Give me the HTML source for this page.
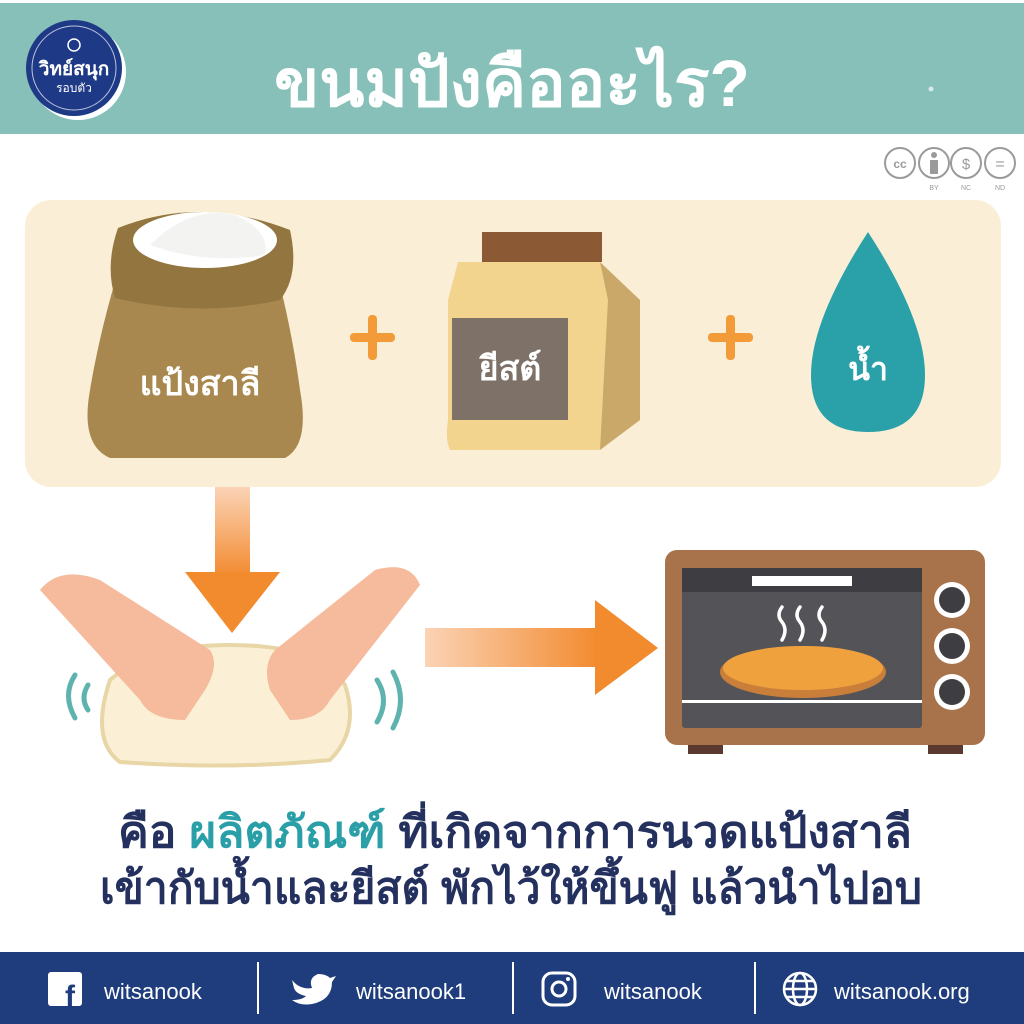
<!DOCTYPE html>
<html><head><meta charset="utf-8"><style>
html,body{margin:0;padding:0;width:1024px;height:1024px;overflow:hidden;background:#fff}
svg{display:block}
text{font-family:"Liberation Sans","Noto Sans CJK SC",sans-serif}
</style></head><body>
<svg width="1024" height="1024" viewBox="0 0 1024 1024" xmlns="http://www.w3.org/2000/svg">
<defs>
<linearGradient id="gd" x1="0" y1="0" x2="0" y2="1"><stop offset="0" stop-color="#FBD3B6"/><stop offset="1" stop-color="#F28A2E"/></linearGradient>
<linearGradient id="gr" x1="0" y1="0" x2="1" y2="0"><stop offset="0" stop-color="#FBD3B6"/><stop offset="1" stop-color="#F28A2E"/></linearGradient>
</defs>
<rect x="0" y="0" width="1024" height="134" fill="#86C0B9"/>
<rect x="0" y="0" width="1024" height="3" fill="#fff"/>
<circle cx="78" cy="72" r="48" fill="#fff"/>
<circle cx="74" cy="68" r="48" fill="#1E3A87"/>
<circle cx="74" cy="68" r="42" fill="none" stroke="#fff" stroke-width="1" opacity="0.7"/>
<text x="74" y="75" font-size="19" font-weight="bold" fill="#fff" text-anchor="middle">วิทย์สนุก</text>
<text x="74" y="92" font-size="12" fill="#fff" text-anchor="middle">รอบตัว</text>
<circle cx="74" cy="45" r="6" fill="none" stroke="#fff" stroke-width="1.5"/>
<text x="512" y="106" font-size="66" font-weight="bold" fill="#fff" text-anchor="middle">ขนมปังคืออะไร?</text>
<circle cx="931" cy="89" r="2.5" fill="#d8eae7"/>
<g fill="none" stroke="#9a9a9a" stroke-width="2">
<circle cx="900" cy="163" r="15"/><circle cx="934" cy="163" r="15"/><circle cx="966" cy="163" r="15"/><circle cx="1000" cy="163" r="15"/>
</g>
<text x="900" y="168" font-size="12" font-weight="bold" fill="#9a9a9a" text-anchor="middle">cc</text>
<circle cx="934" cy="155" r="3" fill="#9a9a9a"/><rect x="930" y="160" width="8" height="14" fill="#9a9a9a"/>
<text x="934" y="190" font-size="7" fill="#9a9a9a" text-anchor="middle">BY</text>
<text x="966" y="190" font-size="7" fill="#9a9a9a" text-anchor="middle">NC</text>
<text x="1000" y="190" font-size="7" fill="#9a9a9a" text-anchor="middle">ND</text>
<text x="966" y="169" font-size="15" fill="#9a9a9a" text-anchor="middle">$</text>
<text x="1000" y="169" font-size="16" fill="#9a9a9a" text-anchor="middle">=</text>
<rect x="25" y="200" width="976" height="287" rx="26" fill="#FAEFD6"/>
<!-- sack -->
<path d="M120 265 Q100 330 90 390 Q80 445 110 458 L285 458 Q310 445 300 390 Q292 330 275 265 Z" fill="#A8884F"/>
<path d="M118 228 Q200 195 290 230 Q300 275 280 300 Q200 318 115 298 Q105 265 118 228Z" fill="#93753F"/>
<ellipse cx="205" cy="240" rx="72" ry="28" fill="#fff"/>
<path d="M150 245 Q190 205 235 215 Q270 230 265 255 Q205 265 150 245Z" fill="#F3F3F1"/>
<text x="200" y="395" font-size="34" font-weight="bold" fill="#fff" text-anchor="middle">แป้งสาลี</text>
<g fill="#F29B38"><rect x="350" y="333" width="45" height="9" rx="4"/><rect x="368" y="315" width="9" height="45" rx="4"/>
<rect x="708" y="333" width="45" height="9" rx="4"/><rect x="726" y="315" width="9" height="45" rx="4"/></g>
<!-- yeast -->
<rect x="482" y="232" width="120" height="30" fill="#8B5A34"/>
<path d="M600 262 L640 300 L640 420 L600 450 Z" fill="#C9A86A"/>
<path d="M458 262 L600 262 L608 300 L600 450 L450 450 Q445 440 448 420 L448 300 Z" fill="#F2D48F"/>
<rect x="452" y="318" width="116" height="102" fill="#7E7268"/>
<text x="510" y="380" font-size="34" font-weight="bold" fill="#fff" text-anchor="middle">ยีสต์</text>
<!-- drop -->
<path d="M868 232 Q925 320 925 375 Q925 432 868 432 Q811 432 811 375 Q811 320 868 232Z" fill="#2AA0A8"/>
<text x="868" y="380" font-size="32" font-weight="bold" fill="#fff" text-anchor="middle">น้ำ</text>
<!-- arrows -->
<rect x="215" y="487" width="35" height="90" fill="url(#gd)"/>
<path d="M185 572 L280 572 L232 633Z" fill="#F28A2E"/>
<rect x="425" y="628" width="175" height="39" fill="url(#gr)"/>
<path d="M595 600 L658 648 L595 695Z" fill="#F28A2E"/>
<!-- dough & hands -->
<path d="M110 680 Q150 645 230 645 Q320 645 345 685 Q360 730 330 760 Q230 770 120 762 Q90 740 110 680Z" fill="#FBF0D6" stroke="#E8D6A6" stroke-width="4"/>
<path d="M40 590 Q60 565 100 580 L210 650 Q220 665 205 690 L185 720 Q150 720 140 700 Z" fill="#F6BB9C"/>
<path d="M420 585 Q410 560 375 570 L275 650 Q262 665 270 690 L290 720 Q320 720 330 700 Z" fill="#F6BB9C"/>
<g fill="none" stroke="#5FB3AE" stroke-width="5" stroke-linecap="round">
<path d="M75 675 Q62 695 75 718"/><path d="M88 685 Q80 698 88 710"/>
<path d="M377 680 Q390 700 377 722"/><path d="M393 672 Q408 700 393 728"/></g>
<!-- oven -->
<rect x="688" y="738" width="35" height="16" fill="#5A3A2E"/><rect x="928" y="738" width="35" height="16" fill="#5A3A2E"/>
<rect x="665" y="550" width="320" height="195" rx="12" fill="#A8724A"/>
<rect x="682" y="568" width="240" height="160" rx="3" fill="#545458"/>
<rect x="682" y="568" width="240" height="24" fill="#3E3E42"/>
<rect x="752" y="576" width="100" height="10" fill="#fff"/>
<rect x="682" y="700" width="240" height="3" fill="#fff"/>
<g fill="none" stroke="#fff" stroke-width="3.5" stroke-linecap="round">
<path d="M782 607 Q776 615 782 622 Q788 630 782 640"/><path d="M800 607 Q794 615 800 622 Q806 630 800 640"/><path d="M822 607 Q816 615 822 622 Q828 630 822 640"/></g>
<ellipse cx="803" cy="672" rx="83" ry="26" fill="#C97E3A"/>
<ellipse cx="803" cy="668" rx="80" ry="22" fill="#EFA13E"/>
<g fill="#fff">
<circle cx="952" cy="600" r="18"/><circle cx="952" cy="646" r="18"/><circle cx="952" cy="692" r="18"/></g>
<g fill="#3E3E42"><circle cx="952" cy="600" r="13"/><circle cx="952" cy="646" r="13"/><circle cx="952" cy="692" r="13"/></g>
<!-- text -->
<text x="515" y="847" font-size="44" font-weight="bold" fill="#24305E" text-anchor="middle" textLength="794" lengthAdjust="spacingAndGlyphs">คือ <tspan fill="#2A9FA8">ผลิตภัณฑ์</tspan> ที่เกิดจากการนวดแป้งสาลี</text>
<text x="511" y="903" font-size="44" font-weight="bold" fill="#24305E" text-anchor="middle" textLength="822" lengthAdjust="spacingAndGlyphs">เข้ากับน้ำและยีสต์ พักไว้ให้ขึ้นฟู แล้วนำไปอบ</text>
<!-- footer -->
<rect x="0" y="952" width="1024" height="72" fill="#1F3D7C"/>
<g fill="#fff"><rect x="257" y="962" width="2" height="52"/><rect x="512" y="962" width="2" height="52"/><rect x="754" y="962" width="2" height="52"/></g>
<rect x="48" y="972" width="34" height="34" rx="3" fill="#fff"/>
<text x="70" y="1006" font-size="30" font-weight="bold" fill="#1F3D7C" text-anchor="middle">f</text>
<text x="104" y="999" font-size="22" fill="#fff">witsanook</text>
<path d="M292 980 Q300 990 312 988 Q308 978 318 974 Q326 974 330 978 L336 976 L332 982 Q332 1000 312 1004 Q300 1006 292 1000 Q302 1000 306 996 Q296 994 294 988 Z" fill="#fff"/>
<text x="356" y="999" font-size="22" fill="#fff">witsanook1</text>
<rect x="543" y="973" width="32" height="32" rx="9" fill="none" stroke="#fff" stroke-width="3"/>
<circle cx="559" cy="989" r="7" fill="none" stroke="#fff" stroke-width="3"/>
<circle cx="568" cy="979" r="2" fill="#fff"/>
<text x="604" y="999" font-size="22" fill="#fff">witsanook</text>
<g fill="none" stroke="#fff" stroke-width="2.5"><circle cx="800" cy="989" r="16"/><ellipse cx="800" cy="989" rx="7" ry="16"/><path d="M784 989 H816 M787 981 H813 M787 997 H813"/></g>
<text x="834" y="999" font-size="22" fill="#fff">witsanook.org</text>
</svg>
</body></html>
